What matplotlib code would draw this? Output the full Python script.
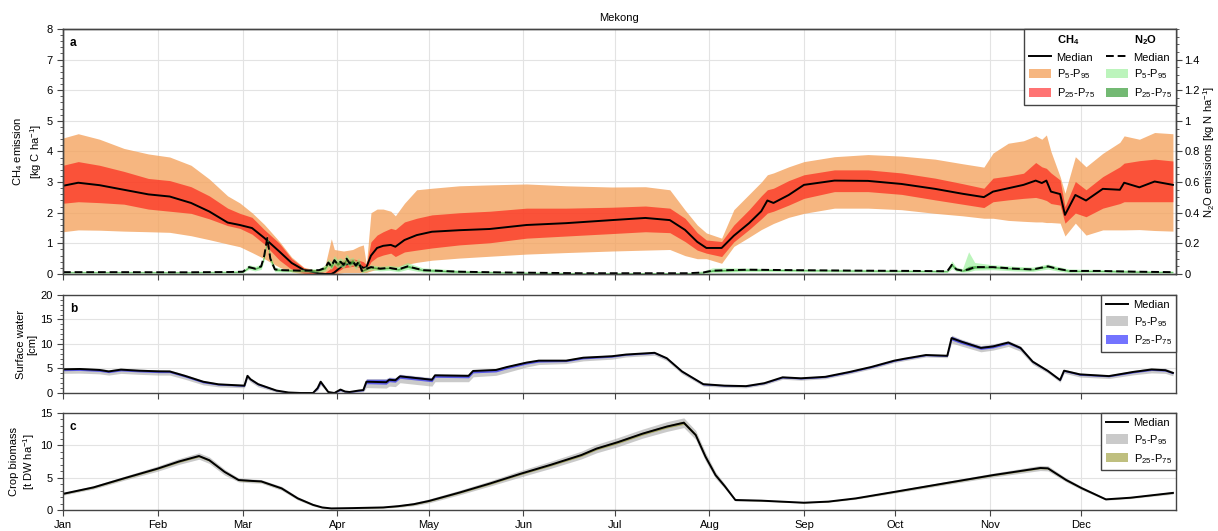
import numpy as np
import matplotlib
matplotlib.use('Agg')
import matplotlib.pyplot as plt
from matplotlib.patches import Patch
from matplotlib.lines import Line2D
from matplotlib.ticker import MultipleLocator, FuncFormatter

plt.rcParams['font.family'] = ['Liberation Sans', 'DejaVu Sans']
plt.rcParams['mathtext.fontset'] = 'custom'
plt.rcParams['mathtext.rm'] = 'Liberation Sans'
plt.rcParams['mathtext.it'] = 'Liberation Sans:italic'
plt.rcParams['mathtext.bf'] = 'Liberation Sans:bold'
plt.rcParams['font.size'] = 8

month_start = [0, 31, 59, 90, 120, 151, 181, 212, 243, 273, 304, 334]
month_names = ['Jan', 'Feb', 'Mar', 'Apr', 'May', 'Jun', 'Jul', 'Aug', 'Sep', 'Oct', 'Nov', 'Dec']

# CH4 emission, kg C/ha (day of year)
ch4_day = [0, 5, 12, 20, 28, 35, 42, 48, 54, 58, 62, 66, 71, 75, 79, 84, 86, 88, 89, 92,
           95, 97, 98.5, 99.5, 101, 103, 105, 107.5, 109, 112, 116, 121, 130, 140, 152, 165, 180, 191, 199, 204,
           208, 211, 216, 220, 225, 229, 231, 233, 238, 243, 253, 264, 275, 286, 295, 302, 305, 310, 315, 319,
           321, 322.5, 324, 327, 328.6, 332, 335.5, 341, 346.6, 348, 353, 358, 364]
ch4_med = [2.88, 2.98, 2.9, 2.75, 2.6, 2.53, 2.32, 2.04, 1.68, 1.6, 1.5, 1.18, 0.73, 0.36, 0.13, 0.02, 0.0, 0.0, 0.05, 0.3,
           0.35, 0.3, 0.2, 0.22, 0.6, 0.85, 0.92, 0.95, 0.89, 1.11, 1.27, 1.38, 1.43, 1.47, 1.6, 1.66, 1.76, 1.83, 1.76, 1.44,
           1.05, 0.85, 0.85, 1.25, 1.66, 2.05, 2.4, 2.32, 2.58, 2.91, 3.05, 3.04, 2.94, 2.78, 2.62, 2.51, 2.69, 2.8, 2.91, 3.05,
           2.97, 3.05, 2.69, 2.61, 1.93, 2.58, 2.4, 2.78, 2.75, 2.98, 2.83, 3.02, 2.91]
ch4_p5 = [1.38, 1.44, 1.43, 1.4, 1.38, 1.36, 1.25, 1.12, 0.98, 0.89, 0.7, 0.5, 0.22, 0.07, 0.0, 0.0, 0.0, 0.0, 0.0, 0.05,
          0.05, 0.05, 0.05, 0.05, 0.1, 0.15, 0.18, 0.2, 0.2, 0.3, 0.38, 0.45, 0.52, 0.58, 0.65, 0.7, 0.75, 0.78, 0.8, 0.6,
          0.5, 0.5, 0.35, 0.9, 1.2, 1.45, 1.55, 1.65, 1.85, 1.98, 2.15, 2.15, 2.1, 1.98, 1.9, 1.82, 1.82, 1.75, 1.72, 1.7,
          1.7, 1.68, 1.68, 1.66, 1.24, 1.66, 1.27, 1.44, 1.44, 1.44, 1.45, 1.42, 1.4]
ch4_p25 = [2.31, 2.36, 2.33, 2.28, 2.12, 2.05, 1.98, 1.8, 1.58, 1.49, 1.3, 0.98, 0.45, 0.15, 0.03, 0.0, 0.0, 0.0, 0.02, 0.2,
           0.25, 0.22, 0.1, 0.12, 0.4, 0.55, 0.62, 0.68, 0.57, 0.72, 0.78, 0.85, 0.95, 1.02, 1.17, 1.24, 1.32, 1.38, 1.35, 1.06,
           0.78, 0.68, 0.57, 1.05, 1.45, 1.8, 1.99, 2.05, 2.25, 2.47, 2.69, 2.69, 2.6, 2.42, 2.28, 2.17, 2.36, 2.42, 2.47, 2.5,
           2.45, 2.4, 2.3, 2.25, 1.66, 1.99, 1.87, 2.15, 2.3, 2.36, 2.36, 2.36, 2.36]
ch4_p75 = [3.55, 3.67, 3.55, 3.35, 3.12, 3.05, 2.85, 2.55, 2.15, 1.98, 1.85, 1.45, 1.0, 0.5, 0.2, 0.04, 0.05, 0.2, 0.35, 0.45,
           0.5, 0.45, 0.4, 0.3, 1.05, 1.27, 1.38, 1.49, 1.45, 1.7, 1.82, 1.93, 2.0, 2.05, 2.15, 2.15, 2.18, 2.22, 2.15, 1.82,
           1.35, 1.11, 1.06, 1.6, 2.1, 2.55, 2.75, 2.8, 3.05, 3.24, 3.4, 3.4, 3.3, 3.13, 2.95, 2.8, 3.13, 3.2, 3.29, 3.64,
           3.5, 3.45, 3.3, 3.07, 2.2, 3.02, 2.75, 3.18, 3.5, 3.62, 3.7, 3.75, 3.69]
ch4_p95 = [4.44, 4.58, 4.4, 4.1, 3.92, 3.82, 3.55, 3.1, 2.55, 2.32, 2.0, 1.62, 1.06, 0.55, 0.22, 0.1, 0.3, 1.15, 0.8, 0.75,
           0.8, 0.9, 0.95, 0.3, 2.0, 2.12, 2.12, 2.05, 1.9, 2.31, 2.75, 2.8, 2.88, 2.91, 2.94, 2.88, 2.84, 2.85, 2.75, 2.09,
           1.6, 1.34, 1.17, 2.1, 2.6, 3.0, 3.24, 3.3, 3.5, 3.67, 3.83, 3.9, 3.85, 3.75, 3.6, 3.49, 3.95, 4.27, 4.35, 4.51,
           4.4, 4.54, 4.0, 3.18, 2.64, 3.83, 3.5, 3.94, 4.3, 4.51, 4.4, 4.62, 4.58]

# N2O emission, kg N/ha
n2o_day = [0, 20, 40, 55, 59, 61, 63, 65, 66, 67, 68, 69.5, 72, 78, 84, 86, 87, 88, 89, 90,
           91, 92, 93, 94, 95, 96, 97, 98, 99, 101, 104, 107, 110, 113, 115, 118, 122, 130, 145, 170,
           205, 210, 213, 218, 225, 240, 260, 280, 290, 291.5, 293, 295, 297, 299, 305, 312, 318, 323, 326, 330,
           340, 352, 364]
n2o_med = [0.012, 0.012, 0.011, 0.013, 0.015, 0.045, 0.035, 0.05, 0.12, 0.235, 0.1, 0.03, 0.025, 0.022, 0.025, 0.04, 0.075, 0.05, 0.09, 0.065,
           0.08, 0.06, 0.1, 0.07, 0.085, 0.055, 0.08, 0.02, 0.03, 0.045, 0.035, 0.04, 0.03, 0.05, 0.04, 0.025, 0.022, 0.015, 0.01, 0.005,
           0.005, 0.01, 0.022, 0.025, 0.028, 0.025, 0.022, 0.02, 0.018, 0.06, 0.03, 0.022, 0.03, 0.045, 0.045, 0.035, 0.03, 0.05, 0.035, 0.02,
           0.02, 0.015, 0.012]
n2o_p5 = [0.006, 0.006, 0.005, 0.007, 0.008, 0.03, 0.02, 0.03, 0.09, 0.2, 0.07, 0.015, 0.013, 0.012, 0.013, 0.02, 0.05, 0.03, 0.06, 0.04,
          0.05, 0.035, 0.07, 0.045, 0.06, 0.03, 0.055, 0.008, 0.015, 0.028, 0.02, 0.024, 0.015, 0.03, 0.022, 0.012, 0.01, 0.006, 0.004, 0.002,
          0.002, 0.004, 0.01, 0.012, 0.016, 0.015, 0.013, 0.011, 0.01, 0.035, 0.018, 0.012, 0.015, 0.025, 0.028, 0.02, 0.017, 0.032, 0.02, 0.01,
          0.011, 0.007, 0.006]
n2o_p25 = [0.01, 0.01, 0.009, 0.011, 0.012, 0.04, 0.03, 0.044, 0.11, 0.225, 0.092, 0.025, 0.021, 0.019, 0.021, 0.033, 0.066, 0.042, 0.08, 0.056,
           0.07, 0.05, 0.09, 0.06, 0.076, 0.046, 0.072, 0.016, 0.025, 0.04, 0.03, 0.035, 0.025, 0.043, 0.034, 0.021, 0.018, 0.012, 0.008, 0.004,
           0.004, 0.008, 0.017, 0.02, 0.024, 0.022, 0.019, 0.017, 0.015, 0.052, 0.026, 0.018, 0.024, 0.038, 0.04, 0.03, 0.026, 0.045, 0.03, 0.017,
           0.017, 0.012, 0.01]
n2o_p75 = [0.014, 0.014, 0.013, 0.015, 0.018, 0.05, 0.04, 0.056, 0.13, 0.245, 0.108, 0.035, 0.029, 0.025, 0.029, 0.047, 0.084, 0.06, 0.1, 0.074,
           0.09, 0.07, 0.11, 0.08, 0.094, 0.064, 0.088, 0.025, 0.035, 0.05, 0.04, 0.045, 0.036, 0.058, 0.046, 0.03, 0.027, 0.019, 0.012, 0.007,
           0.007, 0.013, 0.028, 0.03, 0.032, 0.028, 0.025, 0.023, 0.021, 0.068, 0.035, 0.026, 0.05, 0.055, 0.05, 0.04, 0.035, 0.055, 0.04, 0.024,
           0.023, 0.018, 0.015]
n2o_p95 = [0.018, 0.018, 0.017, 0.02, 0.025, 0.06, 0.05, 0.065, 0.14, 0.26, 0.12, 0.045, 0.035, 0.03, 0.035, 0.06, 0.1, 0.08, 0.12, 0.095,
           0.105, 0.09, 0.13, 0.1, 0.11, 0.085, 0.105, 0.035, 0.045, 0.06, 0.05, 0.055, 0.05, 0.075, 0.06, 0.04, 0.035, 0.025, 0.016, 0.01,
           0.01, 0.02, 0.04, 0.04, 0.038, 0.033, 0.03, 0.028, 0.026, 0.085, 0.045, 0.035, 0.145, 0.075, 0.06, 0.05, 0.045, 0.065, 0.05, 0.032,
           0.03, 0.024, 0.02]

# surface water depth, cm
w_day = [0, 5.5, 12, 15, 19, 25, 31.6, 35, 40, 46, 51, 59.5, 60.5, 61.5, 64, 70, 74, 78, 82, 83.5,
         84.5, 87, 89, 91, 92.5, 94, 97, 98.5, 99.5, 106, 107, 109, 110.5, 115, 121, 122, 133, 134.5, 142, 145.6,
         152, 156, 165, 170.6, 180, 184.7, 194, 198, 203, 210, 217, 224, 230, 236, 242, 250, 258, 265, 272.6, 276,
         283, 290, 291.4, 294.5, 301, 305, 310, 314, 318, 323, 327, 328.3, 333.5, 343, 351, 357, 361.5, 364]
w_med = [4.83, 4.9, 4.7, 4.4, 4.77, 4.55, 4.42, 4.4, 3.5, 2.3, 1.77, 1.5, 3.5, 2.8, 1.8, 0.5, 0.1, 0.0, 0.0, 1.0,
         2.3, 0.2, 0.0, 0.7, 0.3, 0.2, 0.5, 0.6, 2.3, 2.2, 2.7, 2.6, 3.4, 3.1, 2.7, 3.6, 3.5, 4.5, 4.7, 5.3,
         6.2, 6.6, 6.6, 7.2, 7.5, 7.85, 8.2, 7.1, 4.4, 1.8, 1.5, 1.4, 2.0, 3.2, 3.0, 3.3, 4.3, 5.3, 6.6, 7.0,
         7.75, 7.6, 11.2, 10.5, 9.2, 9.5, 10.3, 9.2, 6.4, 4.5, 2.65, 4.55, 3.8, 3.45, 4.3, 4.8, 4.65, 4.1]
w_p5 = [4.0, 4.05, 3.9, 3.65, 4.0, 3.8, 3.65, 3.65, 2.8, 1.65, 1.25, 1.05, 2.9, 2.25, 1.25, 0.2, 0.0, 0.0, 0.0, 0.5,
        1.6, 0.0, 0.0, 0.25, 0.05, 0.0, 0.15, 0.25, 1.1, 1.0, 1.4, 1.3, 2.1, 1.8, 1.4, 2.3, 2.3, 3.3, 3.6, 4.2,
        5.3, 5.8, 6.0, 6.55, 6.9, 7.35, 7.7, 6.6, 3.9, 1.4, 1.15, 1.05, 1.65, 2.8, 2.6, 2.9, 3.9, 4.9, 6.2, 6.6,
        7.35, 7.2, 10.2, 9.6, 8.4, 8.75, 9.5, 8.5, 5.85, 4.05, 2.2, 4.05, 3.25, 2.95, 3.7, 4.1, 4.0, 3.5]
w_p25 = [4.55, 4.6, 4.4, 4.15, 4.5, 4.3, 4.15, 4.15, 3.25, 2.05, 1.6, 1.35, 3.3, 2.6, 1.6, 0.4, 0.05, 0.0, 0.0, 0.8,
         2.0, 0.1, 0.0, 0.5, 0.2, 0.1, 0.35, 0.45, 1.9, 1.8, 2.3, 2.2, 3.0, 2.7, 2.3, 3.2, 3.1, 4.1, 4.3, 4.95,
         5.9, 6.3, 6.4, 6.95, 7.3, 7.7, 8.05, 6.95, 4.25, 1.65, 1.4, 1.3, 1.9, 3.05, 2.85, 3.15, 4.15, 5.15, 6.45, 6.85,
         7.6, 7.45, 10.8, 10.1, 8.9, 9.2, 10.0, 8.95, 6.2, 4.35, 2.5, 4.4, 3.6, 3.3, 4.1, 4.6, 4.45, 3.9]
w_p75 = [4.95, 5.0, 4.8, 4.5, 4.85, 4.65, 4.5, 4.5, 3.6, 2.4, 1.85, 1.6, 3.65, 2.9, 1.9, 0.55, 0.15, 0.0, 0.0, 1.1,
         2.45, 0.25, 0.05, 0.8, 0.35, 0.25, 0.6, 0.7, 2.8, 2.8, 3.1, 3.0, 3.7, 3.4, 3.0, 3.8, 3.7, 4.6, 4.85, 5.45,
         6.35, 6.7, 6.7, 7.3, 7.6, 7.95, 8.3, 7.2, 4.5, 1.85, 1.55, 1.5, 2.05, 3.25, 3.05, 3.35, 4.35, 5.35, 6.65, 7.05,
         7.8, 7.7, 11.6, 10.8, 9.5, 9.8, 10.5, 9.4, 6.5, 4.6, 2.7, 4.65, 3.9, 3.55, 4.4, 4.95, 4.85, 4.25]
w_p95 = [5.15, 5.2, 5.0, 4.75, 5.05, 4.85, 4.7, 4.7, 3.8, 2.55, 2.0, 1.75, 3.85, 3.05, 2.05, 0.7, 0.2, 0.05, 0.05, 1.25,
         2.65, 0.4, 0.1, 0.95, 0.5, 0.4, 0.75, 0.85, 2.95, 2.95, 3.25, 3.15, 3.85, 3.55, 3.15, 3.95, 3.85, 4.75, 4.95, 5.55,
         6.45, 6.85, 6.85, 7.45, 7.75, 8.05, 8.4, 7.3, 4.6, 2.0, 1.7, 1.6, 2.2, 3.4, 3.2, 3.5, 4.5, 5.5, 6.8, 7.2,
         7.95, 7.85, 11.8, 11.0, 9.7, 10.0, 10.7, 9.6, 6.7, 4.75, 2.85, 4.85, 4.05, 3.7, 4.6, 5.15, 5.05, 4.45]

# crop biomass, t DW/ha
b_day = [0, 10, 20, 31, 38, 44.6, 48, 53, 57.6, 62, 65, 71.7, 77, 82, 85, 88, 95, 105, 110, 115,
         120, 130, 140, 150, 160, 170, 175, 182, 190, 198, 203.6, 207.5, 210.7, 214, 217, 220.5, 229, 243, 251, 260,
         272.6, 290, 305, 320.5, 323, 329, 334, 342, 350, 364]
b_med = [2.5, 3.5, 4.9, 6.4, 7.5, 8.35, 7.7, 5.9, 4.64, 4.5, 4.43, 3.35, 1.8, 0.8, 0.4, 0.25, 0.3, 0.4, 0.6, 0.9,
         1.4, 2.7, 4.1, 5.6, 7.0, 8.5, 9.5, 10.5, 11.8, 12.9, 13.5, 11.6, 8.25, 5.4, 3.7, 1.55, 1.45, 1.13, 1.3, 1.8,
         2.8, 4.2, 5.4, 6.5, 6.45, 4.64, 3.4, 1.65, 1.9, 2.65]
b_p5 = [2.3, 3.25, 4.6, 6.0, 7.05, 7.85, 7.2, 5.4, 4.35, 4.2, 4.15, 3.05, 1.55, 0.62, 0.28, 0.16, 0.2, 0.28, 0.42, 0.66,
        1.1, 2.35, 3.7, 5.1, 6.45, 7.9, 8.85, 9.8, 11.1, 12.15, 12.75, 10.9, 7.6, 4.9, 3.35, 1.38, 1.33, 1.05, 1.2, 1.67,
        2.6, 3.95, 5.1, 6.1, 6.05, 4.35, 3.15, 1.52, 1.77, 2.45]
b_p25 = [2.45, 3.42, 4.8, 6.28, 7.35, 8.2, 7.55, 5.8, 4.54, 4.4, 4.33, 3.25, 1.72, 0.74, 0.36, 0.22, 0.27, 0.36, 0.54, 0.82,
         1.3, 2.58, 3.95, 5.45, 6.82, 8.3, 9.3, 10.28, 11.58, 12.68, 13.25, 11.4, 8.05, 5.25, 3.6, 1.5, 1.42, 1.11, 1.27, 1.76,
         2.74, 4.12, 5.3, 6.38, 6.33, 4.54, 3.32, 1.62, 1.86, 2.6]
b_p75 = [2.55, 3.58, 5.0, 6.52, 7.65, 8.5, 7.85, 6.0, 4.74, 4.6, 4.53, 3.45, 1.88, 0.86, 0.44, 0.28, 0.33, 0.44, 0.66, 0.98,
         1.5, 2.82, 4.25, 5.75, 7.18, 8.7, 9.7, 10.72, 12.02, 13.12, 13.75, 11.8, 8.45, 5.55, 3.8, 1.6, 1.48, 1.15, 1.33, 1.84,
         2.86, 4.28, 5.5, 6.62, 6.57, 4.74, 3.48, 1.68, 1.94, 2.7]
b_p95 = [2.7, 3.75, 5.2, 6.8, 7.95, 8.85, 8.2, 6.3, 4.95, 4.8, 4.7, 3.65, 2.05, 0.98, 0.52, 0.34, 0.4, 0.52, 0.78, 1.14,
         1.7, 3.05, 4.5, 6.1, 7.55, 9.1, 10.15, 11.2, 12.5, 13.65, 14.25, 12.3, 8.9, 5.9, 4.05, 1.72, 1.57, 1.21, 1.4, 1.93,
         3.0, 4.45, 5.7, 6.9, 6.85, 4.95, 3.65, 1.78, 2.03, 2.85]

# band colours (face colour, alpha)
ch4_outer = ('#f4a460', 0.8)
ch4_inner = ('red', 0.55)
n2o_outer = ('#90ee90', 0.6)
n2o_inner = ('green', 0.55)
grey_outer = ('#a0a0a0', 0.55)
water_inner = ('blue', 0.55)
bio_inner = ('#808000', 0.5)

spine_col = '#444444'
grid_col = '#e3e3e3'


def style_axis(ax, ymax, major, minor):
    ax.set_xlim(0, 365)
    ax.set_ylim(0, ymax)
    ax.set_xticks(month_start)
    ax.yaxis.set_major_locator(MultipleLocator(major))
    ax.yaxis.set_minor_locator(MultipleLocator(minor))
    ax.grid(True, color=grid_col, lw=0.8)
    ax.set_axisbelow(True)
    ax.tick_params(which='major', direction='out', length=4, width=0.8, color=spine_col, labelsize=8)
    ax.tick_params(which='minor', direction='out', length=2, width=0.6, color=spine_col)
    for s in ax.spines.values():
        s.set_color(spine_col)
        s.set_linewidth(1.0)


def bands(ax, x, p5, p25, med, p75, p95, outer, inner, ls='-'):
    ax.fill_between(x, p5, p95, color=outer[0], alpha=outer[1], lw=0)
    ax.fill_between(x, p25, p75, color=inner[0], alpha=inner[1], lw=0)
    ax.plot(x, med, color='k', lw=1.4, ls=ls)


def panel_letter(ax, s):
    ax.annotate(s, xy=(0, 1), xycoords='axes fraction', xytext=(5, -6),
                textcoords='offset points', va='top', ha='left', fontweight='bold', fontsize=8.5)


def legend_box(ax, handles, labels, ncol=1):
    leg = ax.legend(handles, labels, loc='upper right', ncol=ncol, borderaxespad=0,
                    fancybox=False, framealpha=1, edgecolor=spine_col, fontsize=8,
                    handlelength=2.0, handleheight=0.9, handletextpad=0.5,
                    labelspacing=0.45, columnspacing=1.0, borderpad=0.4)
    leg.get_frame().set_linewidth(1.0)
    return leg


fig = plt.figure(figsize=(12.18, 5.31), dpi=100)
left, width = 0.0517, 0.9138
ax_a = fig.add_axes([left, 0.484, width, 0.4614])
ax_b = fig.add_axes([left, 0.2599, width, 0.1846])
ax_c = fig.add_axes([left, 0.0395, width, 0.1827])

# panel a: CH4 (left) and N2O (right)
style_axis(ax_a, 8, 1, 0.2)
bands(ax_a, ch4_day, ch4_p5, ch4_p25, ch4_med, ch4_p75, ch4_p95, ch4_outer, ch4_inner)
ax_a.set_xticklabels([])
ax_a.set_ylabel('CH$_4$ emission\n[kg C ha$^{-1}$]', fontsize=8, labelpad=2)
ax_a.set_title('Mekong', fontsize=8, pad=6)
panel_letter(ax_a, 'a')

ax_n = ax_a.twinx()
ax_n.set_ylim(0, 1.6)
ax_n.set_yticks(np.arange(0, 1.41, 0.2))
ax_n.yaxis.set_minor_locator(MultipleLocator(0.05))
ax_n.yaxis.set_major_formatter(FuncFormatter(lambda v, p: '%g' % round(v, 1)))
ax_n.tick_params(which='major', direction='out', length=4, width=0.8, color=spine_col, labelsize=8, pad=2)
ax_n.tick_params(which='minor', direction='out', length=2, width=0.6, color=spine_col)
for s in ax_n.spines.values():
    s.set_color(spine_col)
    s.set_linewidth(1.0)
ax_n.fill_between(n2o_day, n2o_p5, n2o_p95, color=n2o_outer[0], alpha=n2o_outer[1], lw=0)
ax_n.fill_between(n2o_day, n2o_p25, n2o_p75, color=n2o_inner[0], alpha=n2o_inner[1], lw=0)
ax_n.plot(n2o_day, n2o_med, color='k', lw=1.4, ls=(0, (4, 2)))
ax_n.set_ylabel('N$_2$O emissions [kg N ha$^{-1}$]', fontsize=8, labelpad=1)

blank = Patch(facecolor='none', edgecolor='none')
h_a = [blank, Line2D([], [], color='k', lw=1.4),
       Patch(facecolor=ch4_outer[0], alpha=ch4_outer[1]), Patch(facecolor=ch4_inner[0], alpha=ch4_inner[1]),
       blank, Line2D([], [], color='k', lw=1.4, ls=(0, (4, 2))),
       Patch(facecolor=n2o_outer[0], alpha=n2o_outer[1]), Patch(facecolor=n2o_inner[0], alpha=n2o_inner[1])]
l_a = [r'$\mathbf{CH_4}$', 'Median', r'P$_5$-P$_{95}$', r'P$_{25}$-P$_{75}$',
       r'$\mathbf{N_2O}$', 'Median', r'P$_5$-P$_{95}$', r'P$_{25}$-P$_{75}$']
legend_box(ax_n, h_a, l_a, ncol=2)

# panel b: surface water
style_axis(ax_b, 20, 5, 1)
bands(ax_b, w_day, w_p5, w_p25, w_med, w_p75, w_p95, grey_outer, water_inner)
ax_b.set_xticklabels([])
ax_b.set_ylabel('Surface water\n[cm]', fontsize=8, labelpad=2)
panel_letter(ax_b, 'b')
legend_box(ax_b, [Line2D([], [], color='k', lw=1.4),
                  Patch(facecolor=grey_outer[0], alpha=grey_outer[1]),
                  Patch(facecolor=water_inner[0], alpha=water_inner[1])],
           ['Median', r'P$_5$-P$_{95}$', r'P$_{25}$-P$_{75}$'])

# panel c: crop biomass
style_axis(ax_c, 15, 5, 1)
bands(ax_c, b_day, b_p5, b_p25, b_med, b_p75, b_p95, grey_outer, bio_inner)
ax_c.set_xticklabels(month_names)
ax_c.set_ylabel('Crop biomass\n[t DW ha$^{-1}$]', fontsize=8, labelpad=2)
panel_letter(ax_c, 'c')
legend_box(ax_c, [Line2D([], [], color='k', lw=1.4),
                  Patch(facecolor=grey_outer[0], alpha=grey_outer[1]),
                  Patch(facecolor=bio_inner[0], alpha=bio_inner[1])],
           ['Median', r'P$_5$-P$_{95}$', r'P$_{25}$-P$_{75}$'])

fig.savefig('out.png', dpi=100)
